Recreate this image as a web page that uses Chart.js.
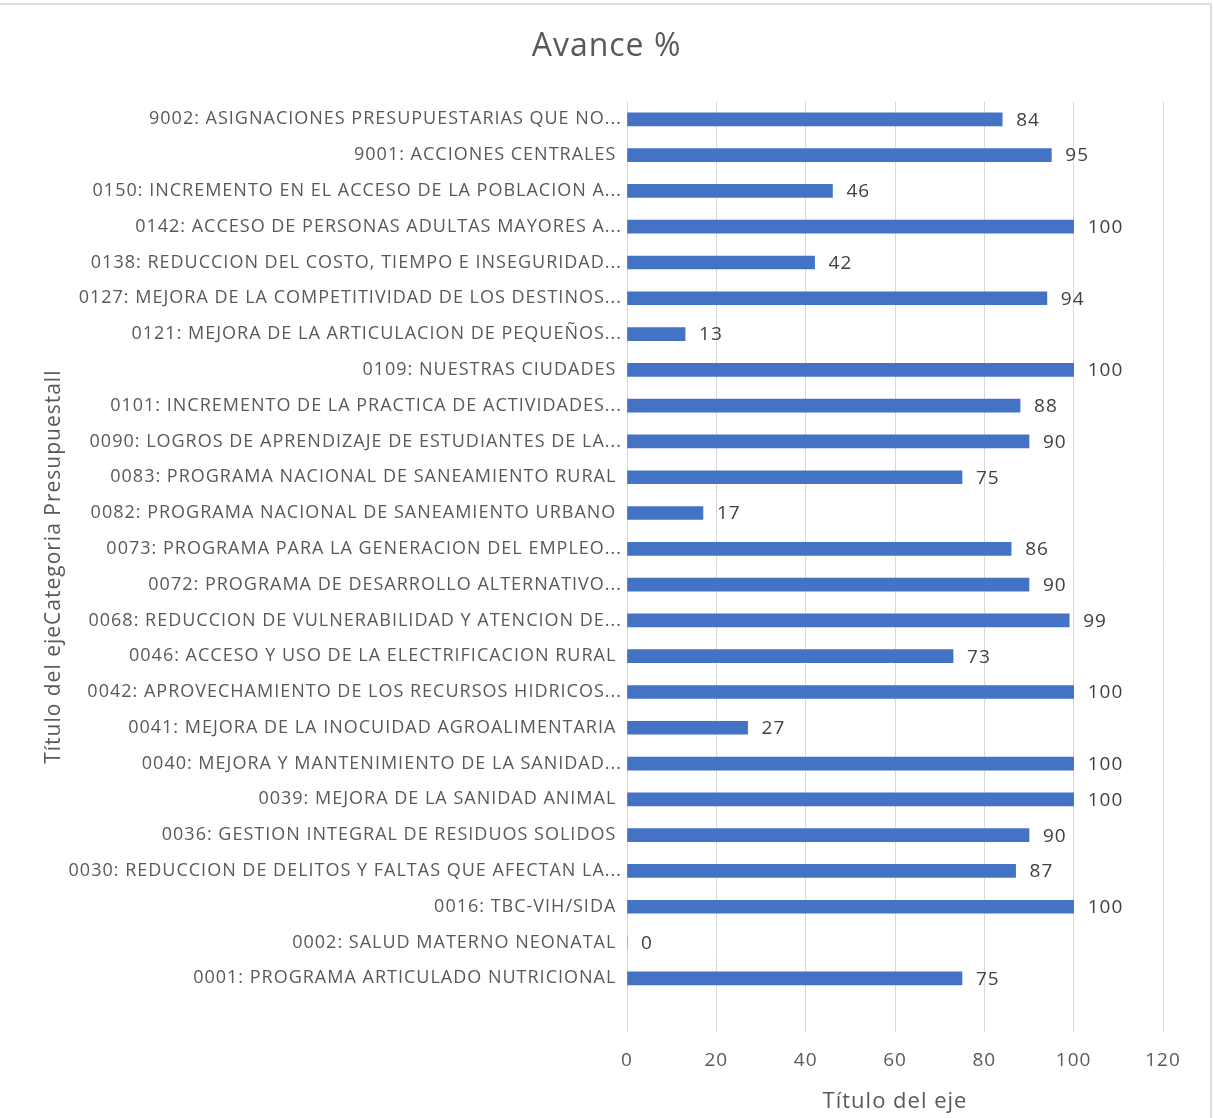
<!DOCTYPE html>
<html>
<head>
<meta charset="utf-8">
<title>Avance %</title>
<script src="https://cdn.jsdelivr.net/npm/chart.js@4"></script>
<style>
  body { margin: 0; background: #fff; }
  #wrap { width: 1213px; height: 1118px; position: relative; }
</style>
</head>
<body>
<div id="wrap"><canvas id="chart"></canvas></div>
<script>
// categories from bottom to top, as in the picture (last row is an empty category)
const categories = [
    '',
    '0001: PROGRAMA ARTICULADO NUTRICIONAL ',
    '0002: SALUD MATERNO NEONATAL ',
    '0016: TBC-VIH/SIDA ',
    '0030: REDUCCION DE DELITOS Y FALTAS QUE AFECTAN LA...',
    '0036: GESTION INTEGRAL DE RESIDUOS SOLIDOS ',
    '0039: MEJORA DE LA SANIDAD ANIMAL ',
    '0040: MEJORA Y MANTENIMIENTO DE LA SANIDAD...',
    '0041: MEJORA DE LA INOCUIDAD AGROALIMENTARIA ',
    '0042: APROVECHAMIENTO DE LOS RECURSOS HIDRICOS...',
    '0046: ACCESO Y USO DE LA ELECTRIFICACION RURAL ',
    '0068: REDUCCION DE VULNERABILIDAD Y ATENCION DE...',
    '0072: PROGRAMA DE DESARROLLO ALTERNATIVO...',
    '0073: PROGRAMA PARA LA GENERACION DEL EMPLEO...',
    '0082: PROGRAMA NACIONAL DE SANEAMIENTO URBANO ',
    '0083: PROGRAMA NACIONAL DE SANEAMIENTO RURAL ',
    '0090: LOGROS DE APRENDIZAJE DE ESTUDIANTES DE LA...',
    '0101: INCREMENTO DE LA PRACTICA DE ACTIVIDADES...',
    '0109: NUESTRAS CIUDADES ',
    '0121: MEJORA DE LA ARTICULACION DE PEQUEÑOS...',
    '0127: MEJORA DE LA COMPETITIVIDAD DE LOS DESTINOS...',
    '0138: REDUCCION DEL COSTO, TIEMPO E INSEGURIDAD...',
    '0142: ACCESO DE PERSONAS ADULTAS MAYORES A...',
    '0150: INCREMENTO EN EL ACCESO DE LA POBLACION A...',
    '9001: ACCIONES CENTRALES ',
    '9002: ASIGNACIONES PRESUPUESTARIAS QUE NO...'
];
const avance = [null, 75, 0, 100, 87, 90, 100, 100, 27, 100, 73, 99, 90, 86, 17, 75, 90, 88, 100, 13, 94, 42, 100, 46, 95, 84];
const xTicks = [0, 20, 40, 60, 80, 100, 120];

const chartTitle = 'Avance %';
const xTitle = 'Título del eje';
const yTitle = 'Título del ejeCategoria Presupuestall';

const fontFam = '"Open Sans", Lato, sans-serif';
const grey = '#595959';

// value labels at the end of each bar, and the title centred on the whole picture
const valueLabels = {
    id: 'valueLabels',
    afterDatasetsDraw(chart) {
        const ctx = chart.ctx;
        const meta = chart.getDatasetMeta(0);
        ctx.save();
        ctx.font = '19px ' + fontFam;
        ctx.fillStyle = '#404040';
        ctx.textAlign = 'left';
        ctx.textBaseline = 'middle';
        meta.data.forEach((bar, i) => {
            const v = avance[i];
            if (v === null || v === undefined) return;
            ctx.fillText(String(v), bar.x + 14, bar.y + 1);
        });
        ctx.restore();
    },
    afterDraw(chart) {
        const ctx = chart.ctx;
        ctx.save();
        ctx.font = '32px ' + fontFam;
        ctx.fillStyle = grey;
        ctx.textAlign = 'center';
        ctx.textBaseline = 'middle';
        ctx.fillText(chartTitle, chart.width / 2, 47);
        ctx.restore();
    }
};

// white background, thin top and right edge like the original picture,
// and the wide letter spacing of the original text
const frame = {
    id: 'frame',
    beforeDraw(chart) {
        const ctx = chart.ctx;
        ctx.letterSpacing = '1px';
        ctx.save();
        ctx.fillStyle = '#fff';
        ctx.fillRect(0, 0, chart.width, chart.height);
        ctx.strokeStyle = '#dedede';
        ctx.lineWidth = 2;
        ctx.beginPath();
        ctx.moveTo(0, 4);
        ctx.lineTo(1211, 4);
        ctx.lineTo(1211, chart.height);
        ctx.stroke();
        ctx.restore();
    }
};

new Chart(document.getElementById('chart'), {
    type: 'bar',
    data: {
        labels: categories,
        datasets: [{
            label: chartTitle,
            data: avance,
            backgroundColor: '#4472C4',
            borderWidth: 0,
            barThickness: 13
        }]
    },
    options: {
        indexAxis: 'y',
        responsive: true,
        maintainAspectRatio: false,
        animation: false,
        layout: { padding: { left: 0, right: 50, top: 0, bottom: 0 } },
        plugins: {
            legend: { display: false },
            tooltip: { enabled: false },
            // keeps the room for the title, the text itself is drawn by valueLabels
            title: {
                display: true,
                text: chartTitle,
                color: 'rgba(0,0,0,0)',
                font: { family: fontFam, size: 32, weight: 'normal' },
                padding: { top: 28, bottom: 35 }
            }
        },
        scales: {
            x: {
                min: 0,
                max: 120,
                afterBuildTicks(scale) {
                    scale.ticks = xTicks.map(v => ({ value: v }));
                },
                afterFit(scale) { scale.height = 86; },
                grid: { color: '#d9d9d9', drawTicks: false },
                border: { display: false },
                ticks: {
                    color: grey,
                    padding: 17,
                    font: { family: fontFam, size: 19 }
                },
                title: {
                    display: true,
                    text: xTitle,
                    color: grey,
                    font: { family: fontFam, size: 22 },
                    padding: { top: 0, bottom: 3 }
                }
            },
            y: {
                reverse: true,
                afterFit(scale) { scale.width = 627; },
                grid: { display: false, drawTicks: false },
                border: { display: false },
                ticks: {
                    color: grey,
                    padding: 5,
                    autoSkip: false,
                    font: { family: fontFam, size: 18 }
                },
                title: {
                    display: true,
                    text: yTitle,
                    color: grey,
                    font: { family: fontFam, size: 21 },
                    padding: { top: 41, bottom: 0 }
                }
            }
        }
    },
    plugins: [frame, valueLabels]
});
</script>
</body>
</html>
